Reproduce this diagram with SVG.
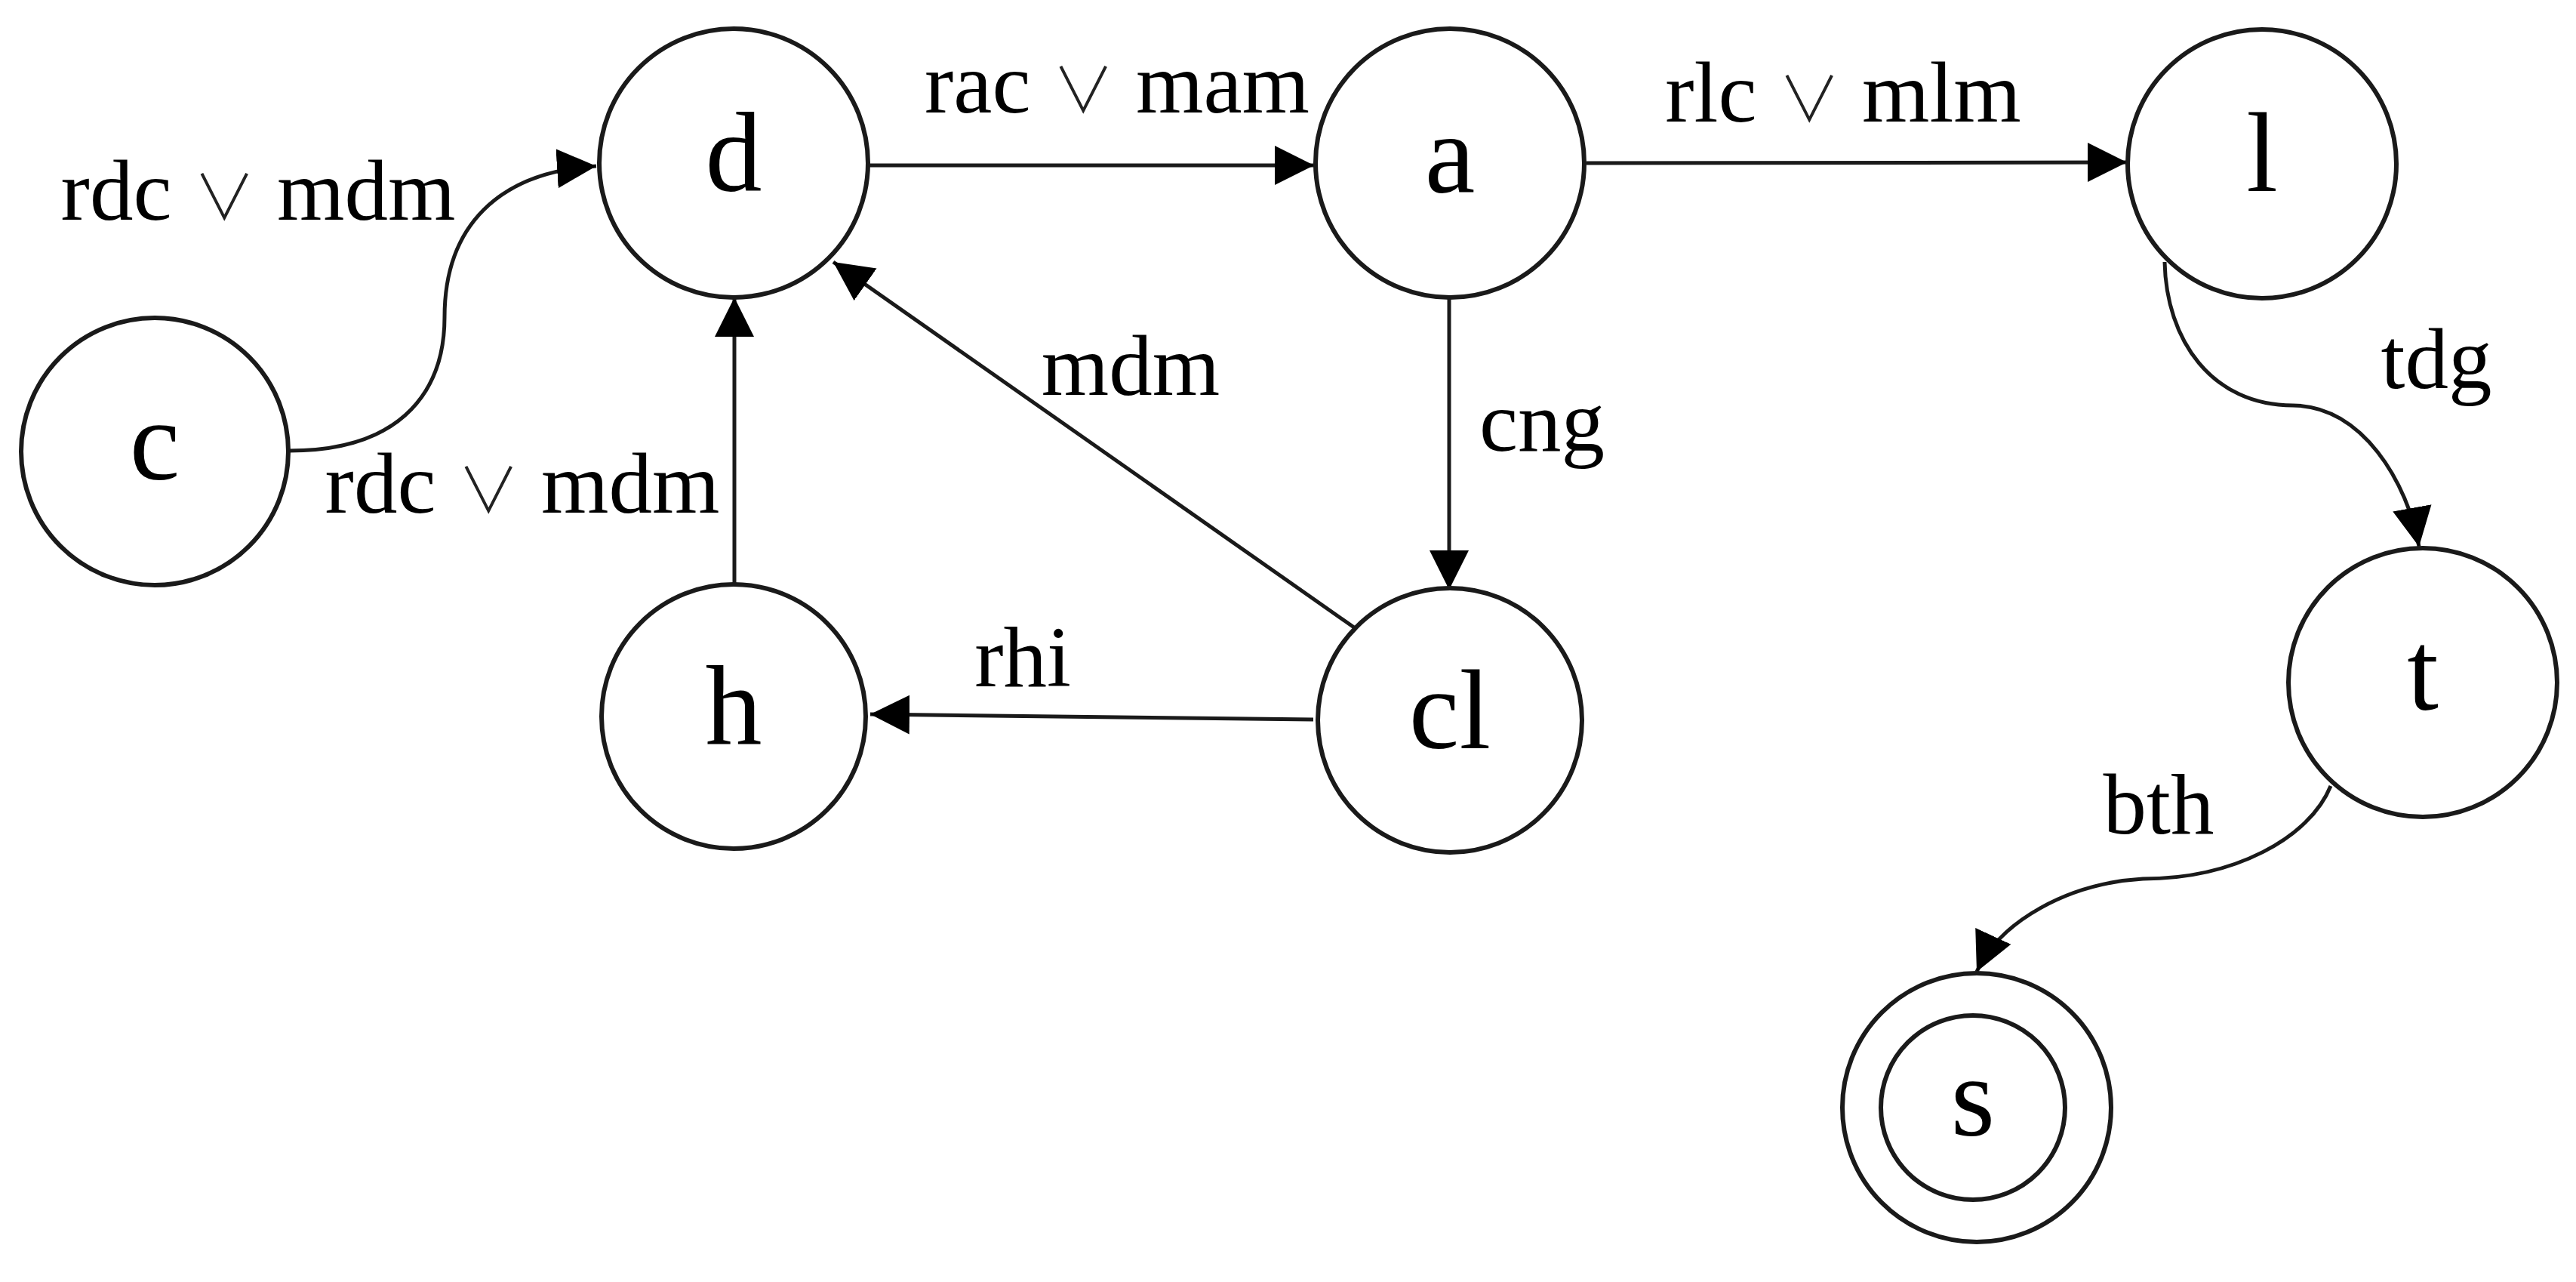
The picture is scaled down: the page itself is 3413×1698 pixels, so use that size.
<svg xmlns="http://www.w3.org/2000/svg" width="3413" height="1698" viewBox="0 0 3413 1698">
<style>
.node{fill:#fff;stroke:#1a1a1a;stroke-width:6}
.nl{font-family:"Liberation Serif","DejaVu Serif",serif;font-size:150px;text-anchor:middle;fill:#000}
.el{font-family:"Liberation Serif","DejaVu Serif",serif;font-size:115px;text-anchor:middle;fill:#000}
.op{font-family:"Noto Sans CJK SC","DejaVu Sans",sans-serif;font-size:82px;font-weight:300;fill:#222}
.edge{fill:none;stroke:#1a1a1a;stroke-width:5}
</style>
<defs>
<marker id="arr" markerUnits="userSpaceOnUse" markerWidth="54" markerHeight="54" refX="52" refY="26" orient="auto">
<path d="M0,0 L52,26 L0,52 Z" fill="#000"/>
</marker>
</defs>
<rect width="3413" height="1698" fill="#fff"/>
<g id="edges">
<path class="edge" d="M383,597 C540,597 589,510 589,420 C589,300 660,228 790,220" marker-end="url(#arr)"/>
<path class="edge" d="M1151,219 L1741,219" marker-end="url(#arr)"/>
<path class="edge" d="M2102,216 L2818,215" marker-end="url(#arr)"/>
<path class="edge" d="M973,776 L973,394" marker-end="url(#arr)"/>
<path class="edge" d="M1920,395 L1920,781" marker-end="url(#arr)"/>
<path class="edge" d="M1794,831 L1104,347" marker-end="url(#arr)"/>
<path class="edge" d="M1740,953 L1153,946" marker-end="url(#arr)"/>
<path class="edge" d="M2868,347 C2870,450 2930,537 3038,537 C3130,537 3190,640 3205,724" marker-end="url(#arr)"/>
<path class="edge" d="M3088,1041 C3060,1110 2960,1164 2839,1164 C2740,1170 2650,1220 2619,1287" marker-end="url(#arr)"/>
<text class="el" x="342" y="291">rdc <tspan class="op">∨</tspan> mdm</text>
<text class="el" x="692" y="679">rdc <tspan class="op">∨</tspan> mdm</text>
<text class="el" x="1480" y="149">rac <tspan class="op">∨</tspan> mam</text>
<text class="el" x="2442" y="161">rlc <tspan class="op">∨</tspan> mlm</text>
<text class="el" x="1498" y="523">mdm</text>
<text class="el" x="2043" y="597">cng</text>
<text class="el" x="1355" y="909">rhi</text>
<text class="el" x="3228" y="514">tdg</text>
<text class="el" x="2860" y="1104">bth</text>
</g>
<g id="node-c"><circle class="node" cx="205" cy="598" r="177"/><text class="nl" x="205" y="635">c</text></g>
<g id="node-d"><circle class="node" cx="972" cy="216" r="178"/><text class="nl" x="972" y="253">d</text></g>
<g id="node-a"><circle class="node" cx="1921" cy="216" r="178"/><text class="nl" x="1921" y="255">a</text></g>
<g id="node-l"><circle class="node" cx="2997" cy="217" r="178"/><text class="nl" x="2997" y="253">l</text></g>
<g id="node-h"><circle class="node" cx="972" cy="949" r="175"/><text class="nl" x="972" y="985">h</text></g>
<g id="node-cl"><circle class="node" cx="1921" cy="954" r="175"/><text class="nl" x="1921" y="991">cl</text></g>
<g id="node-t"><circle class="node" cx="3210" cy="904" r="178"/><text class="nl" x="3210" y="940">t</text></g>
<g id="node-s"><circle class="node" cx="2619" cy="1467" r="178"/><circle class="node" cx="2614" cy="1467" r="122" fill="none"/><text class="nl" x="2614" y="1504">s</text></g>
</svg>
